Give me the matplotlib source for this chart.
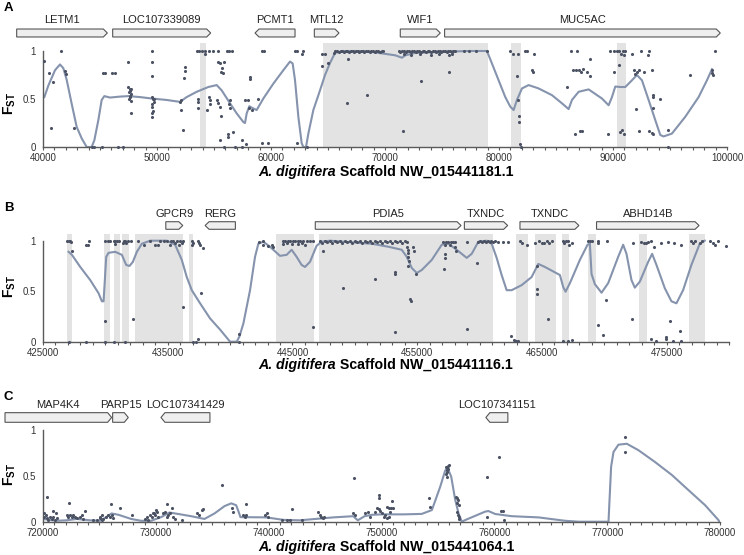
import matplotlib
matplotlib.use("Agg")
import matplotlib.pyplot as plt
from matplotlib.patches import Polygon
from matplotlib.text import Annotation
from matplotlib.ticker import MultipleLocator, FixedLocator

plt.rcParams["font.family"] = ["Liberation Sans", "DejaVu Sans"]
plt.rcParams["mathtext.fontset"] = "custom"
plt.rcParams["mathtext.rm"] = "Liberation Sans"
plt.rcParams["mathtext.bf"] = "Liberation Sans:bold"

#########################################################
# Data
#########################################################

# ---- panel A : scaffold NW_015441181.1
a_title = "Scaffold NW_015441181.1"
a_genes = [("LETM1", 37691, 45644, 1), ("LOC107339089", 46112, 54709, 1),
           ("PCMT1", 58598, 62107, -1), ("MTL12", 63802, 65966, 1),
           ("WIF1", 71340, 74849, 1), ("MUC5AC", 75229, 99411, 1)]
a_shade = [(53770, 54300), (64530, 79040), (81050, 81900), (90350, 91170)]
a_dots = [
    (40118, 0.90), (40557, 0.77), (40907, 0.68), (40703, 0.20), (41551, 1.0), (41931, 0.79),
    (41989, 0.76), (42720, 0.20), (44328, 0.0), (44504, 0.0), (45206, 0.0), (45235, 0.77),
    (45440, 0.77), (46083, 0.77), (46317, 0.77), (46609, 0.0), (47048, 0.0),
    (47457, 0.885), (47500, 0.63), (47650, 0.60), (47600, 0.58), (47700, 0.55), (47650, 0.52),
    (47550, 0.50), (47750, 0.48), (47691, 0.355), (47550, 0.57), (47750, 0.60), (47600, 0.53),
    (49592, 1.0), (49533, 0.89), (49533, 0.74), (49600, 0.52), (49650, 0.50), (49700, 0.47),
    (49550, 0.45), (49600, 0.42), (49650, 0.38), (49600, 0.35), (49550, 0.31), (49738, 0.50),
    (52077, 0.49), (52019, 0.47), (52106, 0.385), (52253, 0.175), (52457, 0.83), (52487, 0.79),
    (52399, 0.72), (53481, 1.0), (53715, 1.0), (53919, 1.0), (54182, 1.0), (54592, 1.0),
    (54943, 1.0), (55381, 1.0), (56112, 1.0), (56346, 1.0), (56551, 1.0), (54212, 0.97),
    (53627, 0.505), (53627, 0.47), (53627, 0.41), (54358, 0.385), (54592, 0.52), (54650, 0.49),
    (54650, 0.445), (55381, 0.89), (55527, 0.87), (55878, 0.89), (55586, 0.78), (55674, 0.82),
    (55762, 0.77), (55235, 0.49), (55381, 0.455), (55527, 0.42), (55586, 0.325), (56405, 0.49),
    (56346, 0.445), (56405, 0.41), (55527, 0.07), (56200, 0.14), (56260, 0.10), (56697, 0.16),
    (57428, 0.07), (57808, 0.03), (55878, 0.0), (56843, 0.0), (57428, 0.0), (57720, 0.49),
    (58013, 0.49), (58159, 0.73), (58159, 0.71), (58101, 0.41), (58305, 0.385), (58832, 0.505),
    (59183, 1.0), (59387, 1.0), (59212, 0.045), (59768, 0.045), (62107, 1.0), (62311, 1.0),
    (62691, 0.97), (62837, 1.0), (62311, 0.045), (63130, 0.0), (64445, 0.97), (64738, 0.97),
    (64445, 0.84), (65031, 0.875), (66785, 0.92), (66697, 0.46), (68393, 0.54),
    (65500, 0.98), (65650, 1.0), (65800, 1.0), (65950, 0.99), (66100, 1.0), (66250, 1.0),
    (66400, 0.99), (66550, 1.0), (66700, 1.0), (66850, 0.99), (67000, 1.0), (67150, 1.0),
    (67300, 0.99), (67450, 1.0), (67600, 1.0), (67750, 0.99), (67900, 1.0), (68050, 1.0),
    (68200, 0.99), (68350, 1.0), (68500, 1.0), (68650, 0.99), (68800, 1.0), (68950, 1.0),
    (69100, 0.99), (69250, 1.0), (69400, 1.0), (69550, 0.99), (69700, 1.0), (69850, 1.0),
    (71200, 1.0), (71350, 0.99), (71500, 1.0), (71650, 1.0), (71800, 0.99), (71950, 1.0),
    (72100, 1.0), (72250, 0.99), (72400, 1.0), (72550, 1.0), (72700, 0.99), (72850, 1.0),
    (73000, 1.0), (73150, 0.99), (73300, 1.0), (73450, 1.0), (73600, 0.99), (73750, 1.0),
    (73900, 1.0), (74050, 0.99), (74200, 1.0), (74350, 1.0), (74500, 0.99), (74650, 1.0),
    (74800, 1.0), (74950, 0.99), (75100, 1.0), (75250, 1.0), (75400, 0.99), (75550, 1.0),
    (75700, 1.0), (75850, 0.99), (76000, 1.0), (76150, 1.0),
    (71650, 0.97), (72300, 0.96), (73100, 0.97), (74060, 0.955), (74700, 0.97), (75580, 0.955),
    (75900, 0.97), (71574, 0.165), (73183, 0.685), (75580, 0.78),
    (76896, 1.0), (77335, 1.0), (77978, 1.0), (78943, 1.0), (80990, 1.0), (81224, 0.97),
    (81633, 0.97), (82305, 1.0), (82452, 1.0), (83036, 0.97), (81575, 0.74), (81662, 0.49),
    (81721, 0.32), (81721, 0.26), (81808, 0.03), (81925, 0.0), (82890, 0.80), (82949, 0.78),
    (85960, 0.63), (86311, 1.0), (86838, 1.0), (86457, 0.80), (86750, 0.80), (86984, 0.80),
    (87189, 0.78), (87335, 0.81), (87715, 0.78), (88007, 0.74), (88007, 0.92), (86691, 0.14),
    (87130, 0.165), (87276, 0.165), (89557, 0.14), (90054, 0.78), (89762, 1.0), (90054, 1.0),
    (90346, 1.0), (90551, 1.0), (90844, 1.0), (91078, 1.0), (90727, 0.97), (90931, 0.955),
    (90551, 0.85), (90639, 0.16), (90785, 0.175), (90989, 0.14), (91662, 0.97), (92481, 1.0),
    (93124, 1.0), (93066, 0.955), (91808, 0.80), (92101, 0.78), (92247, 0.80), (92686, 0.78),
    (91955, 0.765), (93417, 0.80), (93504, 0.545), (93504, 0.52), (94148, 0.505), (93504, 0.41),
    (92013, 0.395), (92247, 0.165), (93124, 0.165), (93417, 0.15), (93504, 0.14), (94821, 0.18),
    (94821, 0.0), (96779, 0.75), (98680, 0.80), (98680, 0.77), (98739, 0.75), (98914, 1.0),
]
a_line = [
    (40118, 0.52), (40469, 0.64), (41054, 0.80), (41492, 0.86), (41785, 0.82), (42077, 0.70),
    (42516, 0.45), (42954, 0.21), (43393, 0.09), (43831, 0.0), (44270, 0.0), (44504, 0.07),
    (44855, 0.28), (45147, 0.49), (45381, 0.53), (45878, 0.515), (46755, 0.525), (47486, 0.53),
    (48510, 0.52), (49533, 0.505), (50849, 0.49), (52019, 0.47), (52603, 0.52), (53481, 0.575),
    (54504, 0.625), (55235, 0.645), (55674, 0.59), (56405, 0.455), (56990, 0.35), (57575, 0.26),
    (57720, 0.25), (57867, 0.35), (58101, 0.425), (58305, 0.41), (58743, 0.385), (59328, 0.505),
    (60205, 0.66), (61083, 0.80), (61667, 0.89), (61901, 0.87), (62107, 0.695), (62399, 0.315),
    (62691, 0.04), (62837, 0.0), (63071, 0.0), (63276, 0.14), (63715, 0.385), (64299, 0.59),
    (64738, 0.75), (65177, 0.875), (65615, 0.98), (66346, 1.0), (68861, 0.99), (70025, 0.97),
    (70902, 0.955), (71487, 0.93), (71779, 0.955), (72656, 0.98), (74703, 0.99), (77335, 1.0),
    (78943, 1.0), (79381, 0.87), (79966, 0.695), (80551, 0.52), (80990, 0.42), (81282, 0.385),
    (81575, 0.49), (82013, 0.61), (82598, 0.645), (83475, 0.61), (84645, 0.54), (85522, 0.455),
    (86107, 0.395), (86399, 0.49), (86984, 0.575), (87861, 0.60), (89031, 0.505), (89616, 0.435),
    (89909, 0.52), (90200, 0.63), (90639, 0.625), (91078, 0.625), (91662, 0.695), (92101, 0.75),
    (92539, 0.695), (93124, 0.49), (93709, 0.28), (94148, 0.125), (94440, 0.11), (95171, 0.14),
    (96341, 0.315), (97510, 0.52), (98241, 0.695), (98680, 0.81),
]

# ---- panel B : scaffold NW_015441116.1
b_title = "Scaffold NW_015441116.1"
b_genes = [("GPCR9", 434846, 436207, 1), ("RERG", 437996, 440425, -1),
           ("PDIA5", 446830, 458517, 1), ("TXNDC", 458784, 462253, 1),
           ("TXNDC", 463241, 467965, 1), ("ABHD14B", 469380, 477600, 1)]
b_shade = [(426920, 427320), (429855, 430390), (430655, 431190), (431350, 431885),
           (432340, 436207), (436715, 437060), (443680, 446723), (447150, 461100),
           (462894, 463908), (464442, 466097), (466577, 467191), (468659, 469300),
           (472796, 473463), (476800, 478054)]
b_dots = [
    (426919, 1.0), (427052, 1.0), (427186, 1.0), (427240, 0.99), (427319, 0.898),
    (428467, 0.957), (428574, 0.957), (428654, 1.0), (427106, 0.0), (428467, 0.0),
    (429988, 0.0), (430656, 0.0), (431590, 0.0), (429988, 0.205), (429988, 1.0), (430175, 1.0),
    (430389, 1.0), (430656, 1.0), (430789, 1.0), (430923, 1.0), (431056, 1.0), (430789, 0.965),
    (431403, 0.98), (431456, 1.0), (431590, 1.0), (431670, 0.98), (431777, 1.0), (432044, 1.0),
    (432204, 0.221), (432577, 1.0), (433058, 0.957), (433592, 1.0), (433992, 0.957),
    (434259, 0.957), (434392, 1.0), (434713, 1.0), (434926, 1.0), (435247, 1.0), (435460, 1.0),
    (435727, 1.0), (435994, 1.0), (436207, 1.0), (435193, 0.957), (435593, 0.98),
    (435940, 0.957), (436127, 0.975), (436261, 0.34), (436928, 1.0), (437061, 0.98),
    (436928, 0.957), (437408, 1.0), (437541, 0.98), (437595, 0.957), (437809, 0.924),
    (437675, 0.485), (437408, 0.023), (437275, 0.0), (437008, 0.0), (440691, 0.073),
    (440691, 0.0), (442346, 0.99), (442666, 1.0), (442666, 0.957), (443067, 0.947),
    (443334, 0.957), (443414, 0.934), (444215, 1.0), (444402, 1.0), (444668, 1.0), (444802, 1.0),
    (445069, 1.0), (445202, 1.0), (445469, 1.0), (445602, 1.0), (445869, 1.0), (446136, 1.0),
    (446403, 1.0), (446616, 1.0), (444268, 0.965), (444535, 0.975), (444935, 0.965),
    (445415, 0.965), (445736, 0.975), (446003, 0.957), (446670, 0.149), (447417, 0.898),
    (449071, 0.535),
    (447200, 1.0), (447400, 0.975), (447600, 1.0), (447800, 0.99), (448000, 1.0), (448200, 0.98),
    (448400, 1.0), (448600, 0.99), (448800, 1.0), (449000, 0.975), (449200, 1.0), (449400, 0.99),
    (449600, 1.0), (449800, 0.98), (450000, 1.0), (450200, 0.99), (450400, 1.0), (450600, 0.975),
    (450800, 1.0), (451000, 0.99), (451200, 1.0), (451400, 0.98), (451600, 1.0), (451800, 0.99),
    (452000, 1.0), (452200, 0.975), (452400, 1.0), (452600, 0.99), (452800, 1.0), (453000, 0.98),
    (453200, 1.0), (453400, 0.99), (453600, 1.0), (453800, 0.975), (454000, 1.0), (454200, 0.99),
    (451600, 0.62), (453232, 0.69), (453232, 0.675), (453232, 0.1), (454166, 0.934),
    (454300, 0.91), (454300, 0.875), (454250, 0.84), (454350, 0.80), (454300, 0.75),
    (454700, 0.934), (454780, 0.90), (454460, 0.42), (454540, 0.40), (454914, 0.67),
    (457100, 0.985), (457300, 0.985), (457500, 0.985), (457700, 0.985), (457900, 0.985),
    (458036, 0.985), (457236, 0.957), (457636, 0.957), (457236, 0.87), (457236, 0.83),
    (457183, 0.72), (458036, 0.94), (458089, 0.90), (458970, 0.985), (459024, 0.13),
    (459825, 0.78), (459900, 0.985), (460050, 1.0), (460200, 0.985), (460350, 1.0),
    (460500, 0.985), (460650, 1.0), (460800, 0.985), (460950, 1.0), (461100, 0.985),
    (461250, 1.0), (461453, 0.985), (461853, 0.985), (462253, 0.985), (462520, 0.06),
    (462790, 0.015), (462897, 0.01), (463108, 0.01), (463241, 1.0), (463428, 0.98),
    (463775, 0.957), (464442, 0.975), (464789, 1.0), (464976, 0.975), (465190, 0.975),
    (465377, 1.0), (465564, 0.975), (465777, 1.0), (464629, 0.75), (464629, 0.52),
    (464629, 0.47), (465510, 0.22), (466711, 1.0), (466791, 0.975), (466924, 1.0),
    (467058, 1.0), (467165, 0.957), (467378, 0.975), (466711, 0.01), (467111, 0.01),
    (467378, 0.015), (468712, 1.0), (468846, 1.0), (469033, 1.0), (469513, 1.0), (470180, 1.0),
    (469513, 0.975), (470127, 0.41), (469513, 0.17), (469913, 0.07), (472316, 0.975),
    (472263, 0.22), (472984, 0.99), (473197, 0.98), (473384, 0.975), (473517, 0.99),
    (473784, 1.0), (473998, 0.934), (473784, 0.025), (474184, 0.01), (474584, 0.975),
    (475118, 0.99), (475598, 0.975), (476185, 0.957), (475251, 0.2), (474931, 0.05),
    (474984, 0.03), (476051, 0.105), (475518, 0.01), (476185, 0.01), (476986, 1.0),
    (477119, 0.98), (477306, 1.0), (477653, 0.975), (477867, 1.0), (478455, 1.0),
    (478722, 0.98), (478855, 0.957), (479122, 1.0), (479736, 0.947),
]
b_line = [
    (427052, 0.89), (427319, 0.86), (427987, 0.74), (428787, 0.61), (429455, 0.48),
    (429721, 0.40), (429855, 0.40), (429935, 0.56), (430068, 0.84), (430255, 0.88),
    (430789, 0.89), (431323, 0.86), (431670, 0.76), (431937, 0.75), (432204, 0.79),
    (432524, 0.89), (432924, 0.97), (433592, 1.0), (434926, 1.0), (435593, 0.96),
    (436127, 0.81), (436527, 0.64), (436928, 0.51), (437595, 0.38), (438396, 0.23),
    (439196, 0.12), (439864, 0.02), (439997, 0.0), (440531, 0.0), (440744, 0.05),
    (441065, 0.18), (441599, 0.51), (441999, 0.84), (442266, 0.97), (442666, 0.99),
    (443200, 0.94), (444001, 0.85), (444535, 0.86), (444935, 0.91), (445335, 0.84),
    (445736, 0.76), (446003, 0.74), (446403, 0.79), (446937, 0.95), (447337, 0.99),
    (448004, 1.0), (449071, 0.99), (451367, 0.97), (452699, 0.94), (453766, 0.91),
    (454166, 0.84), (454567, 0.73), (454967, 0.68), (455368, 0.71), (456168, 0.81),
    (456969, 0.96), (457503, 0.97), (458170, 0.91), (458971, 0.83), (459371, 0.87),
    (459905, 0.99), (460572, 1.0), (460972, 0.97), (461373, 0.83), (461773, 0.66),
    (462173, 0.51), (462574, 0.51), (463375, 0.56), (464175, 0.64), (464709, 0.77),
    (465243, 0.74), (466444, 0.66), (466711, 0.54), (466898, 0.495), (467245, 0.58),
    (468045, 0.81), (468659, 0.96), (468846, 0.97), (468979, 0.67), (469246, 0.57),
    (469780, 0.485), (470314, 0.58), (471115, 0.84), (471515, 0.96), (471782, 0.87),
    (472182, 0.61), (472449, 0.535), (472850, 0.595), (473517, 0.79), (473837, 0.87),
    (474184, 0.76), (474851, 0.53), (475385, 0.40), (475785, 0.38), (476319, 0.51),
    (476986, 0.76), (477653, 0.97), (478054, 1.0),
]

# ---- panel C : scaffold NW_015441064.1
c_title = "Scaffold NW_015441064.1"
c_genes = [("MAP4K4", 716633, 726083, 1), ("PARP15", 726171, 727559, 1),
           ("LOC107341429", 730453, 734794, -1), ("LOC107341151", 759249, 761198, -1)]
c_shade = []
c_dots = [
    (720117, 0.09), (720117, 0.055), (720265, 0.073), (720324, 0.036), (720472, 0.018),
    (720620, 0.047), (720767, 0.025), (720915, 0.055), (721062, 0.018), (721210, 0.036),
    (720324, 0.265), (720915, 0.116), (721151, 0.09), (722332, 0.207), (722096, 0.073),
    (722244, 0.055), (722391, 0.073), (722539, 0.055), (722687, 0.073), (722834, 0.047),
    (722982, 0.036), (723277, 0.047), (723425, 0.073), (723573, 0.025), (723720, 0.116),
    (724458, 0.018), (724754, 0.018), (725049, 0.036), (725197, 0.018), (725049, 0.055),
    (725197, 0.073), (726024, 0.189), (726821, 0.145), (725344, 0.025), (725581, 0.055),
    (725788, 0.073), (725935, 0.047), (726083, 0.073), (726230, 0.036), (727914, 0.073),
    (729036, 0.025), (729183, 0.055), (729331, 0.018), (729479, 0.073), (729626, 0.055),
    (729774, 0.09), (729921, 0.073), (730069, 0.109), (730217, 0.055), (729862, 0.09),
    (729980, 0.127), (730955, 0.189), (731398, 0.145), (730660, 0.09), (730807, 0.109),
    (730955, 0.055), (731103, 0.073), (731250, 0.09), (731546, 0.055), (731693, 0.025),
    (732284, 0.018), (733613, 0.09), (733849, 0.073), (734056, 0.127), (734203, 0.135),
    (735886, 0.40), (736772, 0.145), (736861, 0.109), (737747, 0.073), (737895, 0.055),
    (737983, 0.073), (737983, 0.193), (739666, 0.073), (739814, 0.09), (739903, 0.055),
    (741141, 0.018), (741586, 0.018), (741881, 0.018), (742029, 0.135), (742915, 0.018),
    (744391, 0.109), (744539, 0.073), (744628, 0.055), (744775, 0.036), (744893, 0.055),
    (747581, 0.473), (747492, 0.09), (747640, 0.073), (748526, 0.09), (748822, 0.109),
    (748970, 0.055), (749445, 0.109), (749593, 0.145), (749741, 0.135), (749888, 0.116),
    (750036, 0.09), (750184, 0.055), (750331, 0.073), (750479, 0.036), (750627, 0.055),
    (750774, 0.109), (749800, 0.29), (749800, 0.255), (750922, 0.229), (750479, 0.164),
    (750627, 0.153), (750863, 0.153), (750981, 0.153), (754229, 0.255), (754318, 0.156),
    (755706, 0.60), (755765, 0.582), (755824, 0.564), (755883, 0.571), (755794, 0.545),
    (755706, 0.52), (755794, 0.49), (755942, 0.618), (755883, 0.607), (756592, 0.273),
    (756680, 0.255), (756769, 0.236), (756680, 0.207), (756828, 0.182), (756680, 0.109),
    (756769, 0.073), (756828, 0.055), (756887, 0.025), (759338, 0.49), (759338, 0.047),
    (760371, 0.709), (760608, 0.116), (760755, 0.116), (760814, 0.018), (771593, 0.927),
    (771593, 0.76),
]
c_line = [
    (720000, 0.03), (721180, 0.01), (722060, 0.015), (723000, 0.03), (724180, 0.015),
    (725070, 0.01), (725600, 0.05), (726080, 0.09), (726700, 0.075), (727810, 0.03),
    (728700, 0.01), (729580, 0.01), (730470, 0.05), (731210, 0.10), (731950, 0.085),
    (733130, 0.06), (734310, 0.03), (735200, 0.09), (736090, 0.17), (736680, 0.20),
    (737120, 0.18), (737330, 0.11), (737500, 0.05), (739810, 0.047), (741290, 0.02),
    (742760, 0.015), (745720, 0.047), (747490, 0.06), (747900, 0.015), (748500, 0.06),
    (749150, 0.075), (750000, 0.08), (752000, 0.08), (753570, 0.085), (754465, 0.127),
    (755200, 0.38), (755650, 0.56), (755880, 0.58), (756180, 0.49), (756530, 0.24),
    (756830, 0.09), (757120, 0.0), (757420, 0.018), (759190, 0.11), (759480, 0.116),
    (760080, 0.084), (761550, 0.06), (763915, 0.047), (766280, 0.01), (767460, 0.0),
    (770120, 0.0), (770180, 0.16), (770350, 0.60), (770560, 0.76), (771000, 0.84),
    (771740, 0.85), (772770, 0.78), (774250, 0.65), (775730, 0.51), (777200, 0.345),
    (778680, 0.18), (779860, 0.018), (779950, 0.0),
]

#########################################################
# Styles
#########################################################
DOT = "#4b5263"
LINE = "#8593ad"
SHADE = "#e3e3e3"
AXC = "#5a5a5a"
W, H = 744, 555

fig = plt.figure(figsize=(W / 100, H / 100), dpi=100)


def add_axes_px(left, right, top, bottom):
    return fig.add_axes([left / W, 1 - bottom / H, (right - left) / W, (bottom - top) / H])


def draw_panel(ax, xlim, ytop, xmajor, dots, line, shades, genes, gene_y, width_px):
    ax.set_xlim(*xlim)
    ax.set_ylim(0, ytop)
    for s, e in shades:
        ax.axvspan(s, e, color=SHADE, lw=0, zorder=0)
    lx, ly = zip(*line)
    ax.plot(lx, ly, color=LINE, lw=1.5, zorder=2)
    dx, dy = zip(*dots)
    ax.scatter(dx, dy, s=5, color=DOT, lw=0, zorder=3, clip_on=False)

    # genes as arrows above the plot
    y0, y1, ylab = gene_y
    ym = (y0 + y1) / 2
    tip = (xlim[1] - xlim[0]) * 4.0 / width_px
    for name, s, e, strand in genes:
        if strand > 0:
            pts = [(s, y0), (e - tip, y0), (e, ym), (e - tip, y1), (s, y1)]
        else:
            pts = [(e, y0), (s + tip, y0), (s, ym), (s + tip, y1), (e, y1)]
        ax.add_patch(Polygon(pts, closed=True, fc="#efefef", ec="#555555",
                             lw=0.8, clip_on=False, zorder=4))
        ax.text((s + e) / 2, ylab, name, ha="center", va="center",
                fontsize=8, color="#222222", clip_on=False)

    # axes styling
    for side in ["top", "right"]:
        ax.spines[side].set_visible(False)
    ax.spines["left"].set_bounds(0, 1)
    for side in ["left", "bottom"]:
        ax.spines[side].set_color(AXC)
        ax.spines[side].set_linewidth(1.0)
    ax.set_yticks([0, 0.5, 1])
    ax.set_yticklabels(["0", "0.5", "1"])
    ax.tick_params(axis="y", length=0, pad=5, labelsize=7, labelcolor="#333333")
    ax.xaxis.set_major_locator(FixedLocator(xmajor))
    ax.set_xticklabels([str(v) for v in xmajor])
    ax.xaxis.set_minor_locator(MultipleLocator(1000))
    ax.tick_params(axis="x", which="both", direction="out", length=2.5, width=0.8,
                   color=AXC, labelsize=7, labelcolor="#333333", pad=2)


def axis_title(x_px, y_px, text):
    # italic species name followed by the bold scaffold name
    t1 = fig.text(x_px / W, 1 - y_px / H, "A. digitifera", fontsize=10.2,
                  fontweight="bold", style="italic", ha="left", va="center")
    fig.add_artist(Annotation(" " + text, xy=(1, 0.5), xycoords=t1,
                              va="center", ha="left", fontsize=10.2,
                              fontweight="bold"))


def fst_label(y_px):
    fig.text(10 / W, 1 - y_px / H, r"$\mathbf{F}_{\mathbf{ST}}$", fontsize=10,
             rotation=90, ha="center", va="center")


# Panel A
axA = add_axes_px(43, 727, 147 - 1.086 * 96, 147)
draw_panel(axA, (40000, 100000), 1.086, list(range(40000, 100001, 10000)),
           a_dots, a_line, a_shade, a_genes, (1.146, 1.229, 1.323), 684)
# Panel B
axB = add_axes_px(43, 729, 341.7 - 1.066 * 101, 341.7)
draw_panel(axB, (425000, 480000), 1.066, list(range(425000, 480000, 10000)),
           b_dots, b_line, b_shade, b_genes, (1.113, 1.188, 1.264), 686)
# Panel C
axC = add_axes_px(43, 720, 430, 521.7)
draw_panel(axC, (720000, 780000), 1.0, list(range(720000, 780001, 10000)),
           c_dots, c_line, c_shade, c_genes, (1.084, 1.189, 1.273), 677)

# panel letters
for letter, ypx in [("A", 2), ("B", 202), ("C", 391)]:
    fig.text(4 / W, 1 - ypx / H, letter, fontsize=9.5, fontweight="bold",
             ha="left", va="top")

# axis titles
axis_title(258, 172, a_title)
axis_title(258, 365, b_title)
axis_title(258, 547, c_title)

# F_ST labels
fst_label(104)
fst_label(287)
fst_label(475)

fig.savefig("out.png", dpi=100)
